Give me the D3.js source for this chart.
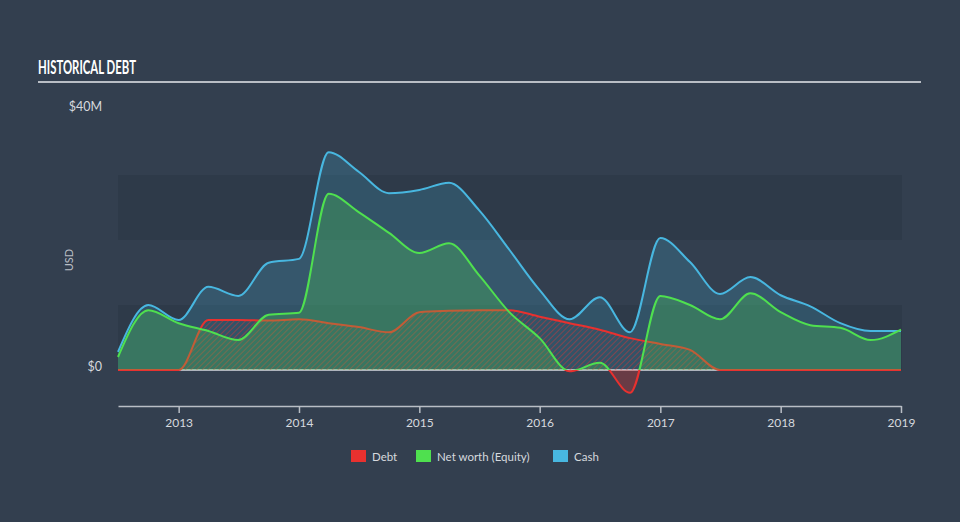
<!DOCTYPE html>
<head>
  <title>Historical Debt</title>
  <style>
    body { margin: 0; background: #333f4f; }
    text { font-family: "Lato", "Open Sans", sans-serif; }
  </style>
</head>
<body>
  <script src="https://cdn.jsdelivr.net/npm/d3@7"></script>
  <script>
    // quarterly data points, values in $M
    var dates = ["2012-07-01","2012-10-01",
                 "2013-01-01","2013-04-01","2013-07-01","2013-10-01",
                 "2014-01-01","2014-04-01","2014-07-01","2014-10-01",
                 "2015-01-01","2015-04-01","2015-07-01","2015-10-01",
                 "2016-01-01","2016-04-01","2016-07-01","2016-10-01",
                 "2017-01-01","2017-04-01","2017-07-01","2017-10-01",
                 "2018-01-01","2018-04-01","2018-07-01","2018-10-01",
                 "2019-01-01"];
    var cash   = [2.8,10.0, 7.7,12.8,11.4,16.5, 17.1,33.5,30.5,27.2, 27.7,28.8,24.6,18.5,
                  12.3,7.8,11.2,5.8, 20.3,16.6,11.7,14.3, 11.5,9.8,7.2,6.0, 6.0];
    var equity = [2.0,9.2, 7.2,6.0,4.6,8.5, 8.8,27.1,24.3,21.1, 18.0,19.5,14.6,8.9,
                  4.9,-0.2,1.1,-3.5, 11.4,10.0,7.8,11.8, 8.9,6.9,6.5,4.6, 6.2];
    var debt   = [0,0, 0,7.7,7.7,7.6, 7.8,7.2,6.6,5.8, 8.9,9.1,9.2,9.2,
                  8.2,7.2,6.2,4.9, 4.0,3.1,0,0, 0,0,0,0, 0];
    var yearTicks = [2013, 2014, 2015, 2016, 2017, 2018, 2019];
    var yTicks = [0, 40];
    var bands = [[0, 10], [20, 30]];
    var legendNames = ["Debt", "Net worth (Equity)", "Cash"];
    var legendColors = ["#e8312f", "#4fe04f", "#48b7e0"];

    const w = 960, h = 522;
    const left = 118, right = 901, bottomAxis = 406;

    var parse = d3.timeParse("%Y-%m-%d");
    var data = dates.map(function(d, i) {
      return {date: parse(d), cash: cash[i], equity: equity[i], debt: debt[i]};
    });

    var x = d3.scaleTime()
              .domain([parse("2012-07-01"), parse("2019-01-01")])
              .range([left, right]);
    var y = d3.scaleLinear().domain([0, 40]).range([370, 110]);

    var svg = d3.select("body").append("svg")
                .attr("width", w).attr("height", h);

    // title + rule
    svg.append("text")
       .attr("x", 38).attr("y", 74)
       .attr("fill", "#ffffff")
       .attr("font-family", "'Liberation Sans Narrow', 'DejaVu Sans Condensed', sans-serif")
       .attr("font-weight", "bold")
       .attr("font-size", "18px")
       .attr("textLength", 98)
       .attr("lengthAdjust", "spacingAndGlyphs")
       .text("HISTORICAL DEBT");
    svg.append("line")
       .attr("x1", 38).attr("x2", 921).attr("y1", 82).attr("y2", 82)
       .attr("stroke", "#b9bec5").attr("stroke-width", 2);

    // background bands
    svg.selectAll(".band").data(bands).enter().append("rect")
       .attr("x", left).attr("width", right - left + 1)
       .attr("y", function(d) { return y(d[1]); })
       .attr("height", function(d) { return y(d[0]) - y(d[1]); })
       .attr("fill", "#2e3a49");

    // hatch pattern for debt
    var defs = svg.append("defs");
    var pat = defs.append("pattern")
       .attr("id", "hatch").attr("patternUnits", "userSpaceOnUse")
       .attr("width", 4).attr("height", 4)
       .attr("patternTransform", "rotate(45)");
    pat.append("line").attr("x1", 0).attr("y1", 0).attr("x2", 0).attr("y2", 4)
       .attr("stroke", "#e8312f").attr("stroke-width", 1.6).attr("stroke-opacity", 0.55);

    defs.append("clipPath").attr("id", "above").append("rect")
        .attr("x", 0).attr("y", 0).attr("width", w).attr("height", y(0));
    defs.append("clipPath").attr("id", "below").append("rect")
        .attr("x", 0).attr("y", y(0)).attr("width", w).attr("height", h - y(0));

    var curve = d3.curveMonotoneX;
    function area(key) {
      return d3.area().curve(curve)
               .x(function(d) { return x(d.date); })
               .y0(y(0))
               .y1(function(d) { return y(d[key]); });
    }
    function line(key) {
      return d3.line().curve(curve)
               .x(function(d) { return x(d.date); })
               .y(function(d) { return y(d[key]); });
    }

    // cash area
    svg.append("path").datum(data).attr("d", area("cash"))
       .attr("fill", "#48b7e0").attr("fill-opacity", 0.2);

    // zero line
    svg.append("line")
       .attr("x1", left).attr("x2", right).attr("y1", y(0)).attr("y2", y(0))
       .attr("stroke", "#d8dbe0").attr("stroke-width", 1.5);

    // debt
    svg.append("path").datum(data).attr("d", area("debt"))
       .attr("fill", "url(#hatch)");
    svg.append("path").datum(data).attr("d", line("debt"))
       .attr("fill", "none").attr("stroke", "#e8312f").attr("stroke-width", 2);

    // equity area, green above zero, red below
    svg.append("path").datum(data).attr("d", area("equity"))
       .attr("clip-path", "url(#above)")
       .attr("fill", "#4fe04f").attr("fill-opacity", 0.25);
    svg.append("path").datum(data).attr("d", area("equity"))
       .attr("clip-path", "url(#below)")
       .attr("fill", "#e8312f").attr("fill-opacity", 0.3);

    // lines
    svg.append("path").datum(data).attr("d", line("cash"))
       .attr("fill", "none").attr("stroke", "#48b7e0").attr("stroke-width", 2);
    svg.append("path").datum(data).attr("d", line("equity"))
       .attr("clip-path", "url(#above)")
       .attr("fill", "none").attr("stroke", "#4fe04f").attr("stroke-width", 2);
    svg.append("path").datum(data).attr("d", line("equity"))
       .attr("clip-path", "url(#below)")
       .attr("fill", "none").attr("stroke", "#e8312f").attr("stroke-width", 2);

    // x axis
    var xAxis = d3.axisBottom(x)
                  .tickValues(yearTicks.map(function(t) { return new Date(t, 0, 1); }))
                  .tickFormat(d3.timeFormat("%Y"))
                  .tickSize(7).tickSizeOuter(0);
    var gx = svg.append("g")
       .attr("transform", "translate(0," + bottomAxis + ")")
       .call(xAxis);
    gx.select(".domain").attr("stroke", "#b9bec5").attr("stroke-width", 1.5);
    gx.selectAll(".tick line").attr("stroke", "#b9bec5").attr("stroke-width", 1.5);
    gx.selectAll(".tick text").attr("fill", "#d6d9de")
      .attr("font-size", "12px").attr("font-family", "Lato").attr("dy", "0.9em");

    // y labels
    svg.selectAll(".ylab").data(yTicks).enter().append("text")
       .attr("x", 102).attr("y", function(d) { return y(d) + 1; })
       .attr("text-anchor", "end")
       .attr("fill", "#d6d9de").attr("font-size", "12.5px")
       .text(function(d) { return d === 0 ? "$0" : "$" + d + "M"; });
    svg.append("text")
       .attr("transform", "translate(73,260) rotate(-90)")
       .attr("text-anchor", "middle")
       .attr("fill", "#b9bec5").attr("font-size", "11px")
       .text("USD");

    // legend
    var legX = [351, 416, 553];
    var leg = svg.selectAll(".leg").data(legendNames).enter().append("g")
       .attr("transform", function(d, i) { return "translate(" + legX[i] + ",450)"; });
    leg.append("rect").attr("width", 15).attr("height", 12)
       .attr("fill", function(d, i) { return legendColors[i]; });
    leg.append("text").attr("x", 21).attr("y", 10.5)
       .attr("fill", "#d6d9de").attr("font-size", "11.5px")
       .text(function(d) { return d; });
  </script>
</body>
